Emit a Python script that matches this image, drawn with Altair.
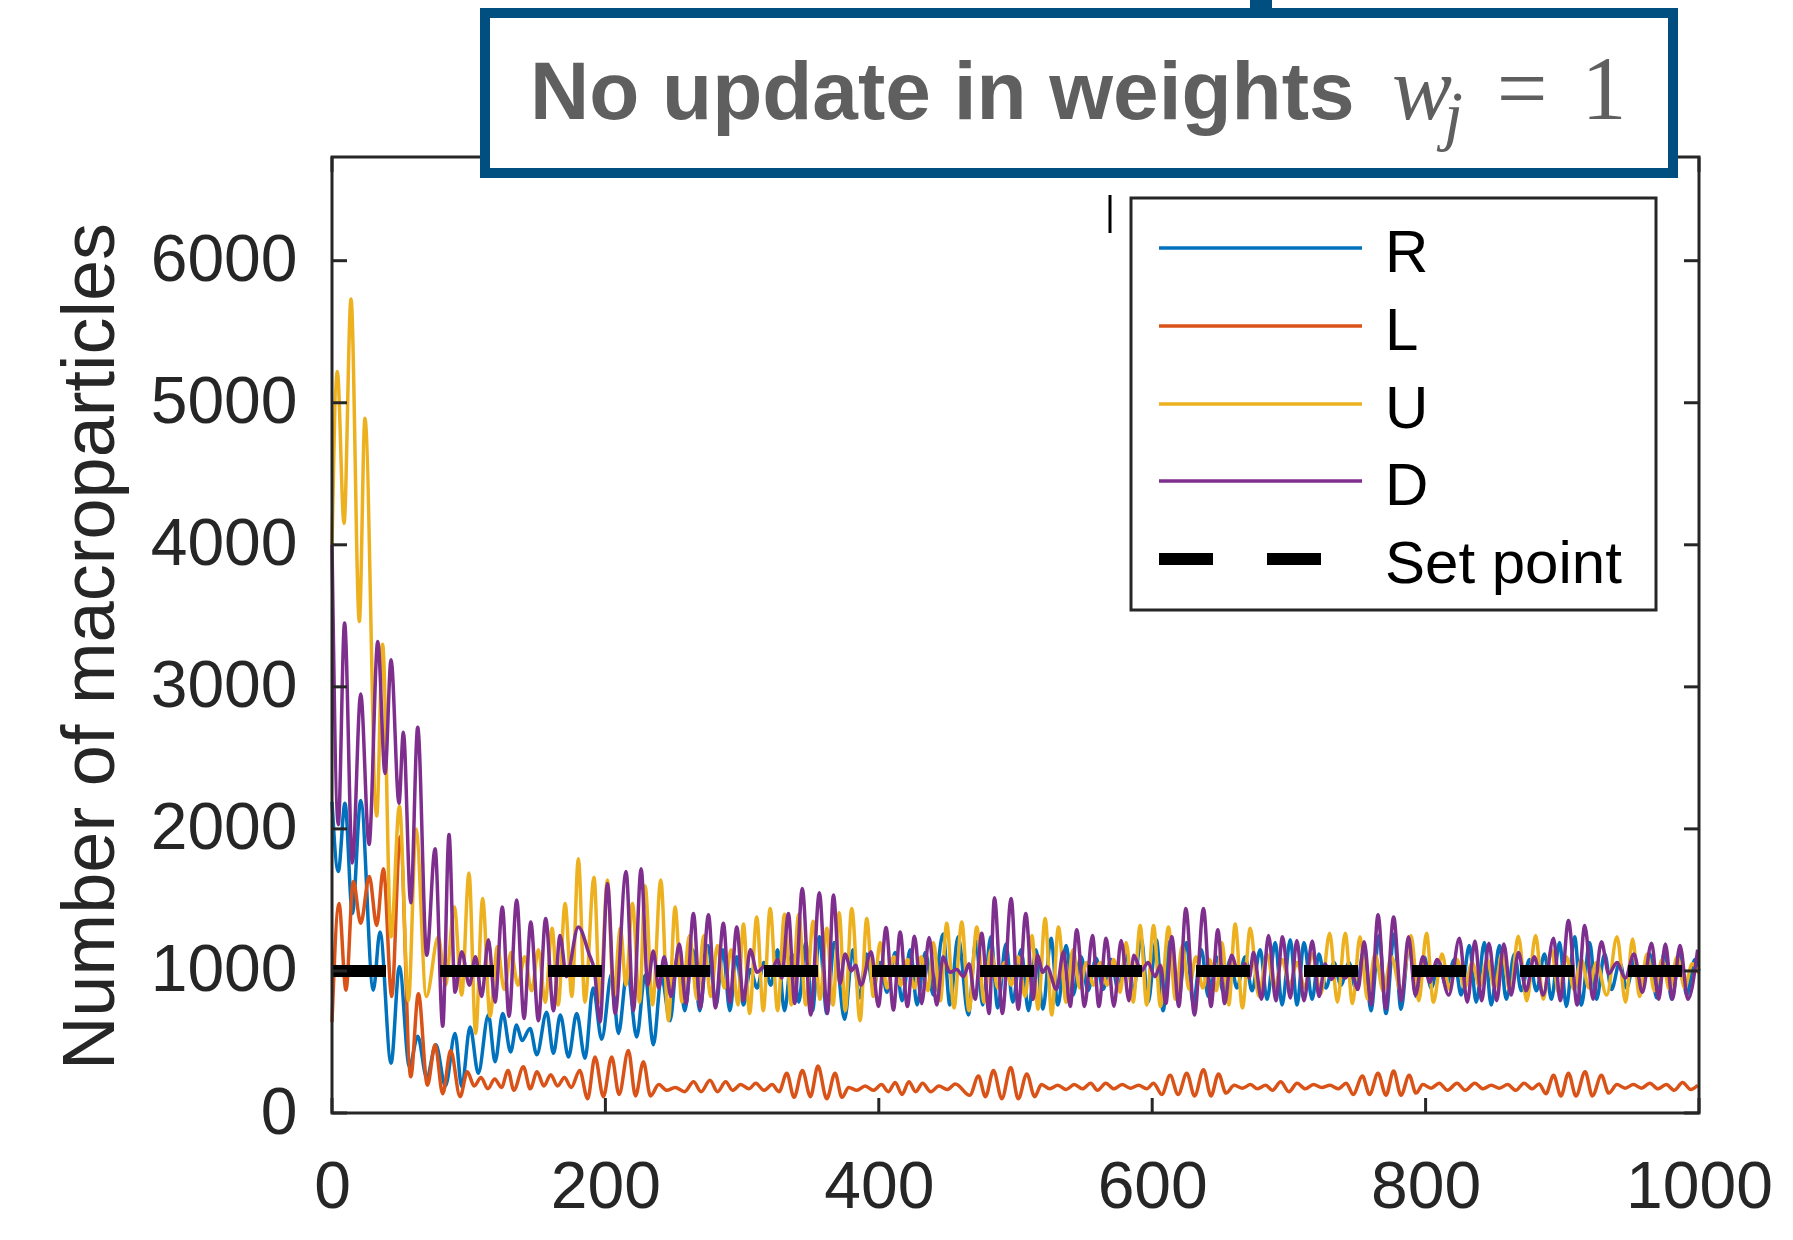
import altair as alt
import pandas as pd

# ---------------- data ----------------
R_pts = [(0,2190),(4.6,1700),(9.5,2180),(14.9,1405),(21,2200),(30.2,865),(35.1,1275),(43.2,350),(49.3,1030),(56.6,325),
 (62.7,540),(69.3,250),(76,480),(83,190),(90,560),(94.9,185),(101,605),(107,280),(114.4,690),(119.3,360),(124.9,700),
 (130.7,430),(135,620),(139,510),(144.9,595),(149.8,410),(157,710),(162,420),(167,690),(173,395),(179,700),(185.1,385),
 (191,880),(197.3,520),(204.6,980),(209.5,560),(216,1000),(222.9,535),(229,970),(235.1,480),(241,960),(247.3,650),
 (253,1120),(258,720),(264,1150),(269,720),(275,1180),(281,760),(286,1150),(291,720),(296,1100),(301,760),(306,1010),
 (311,880),(316,1060),(321,900),(326,1150),(331,720),(336.5,1120),(341.5,780),(346.5,1200),(351.5,720),(356.5,1240),
 (362,700),(367.5,1200),(375,660),(381,1150),(386,810),(391,1120),(396,880),(401,1060),(406,850),(412,1130),(417,790),
 (423,1150),(428,760),(434,1130),(440,830),(447,1260),(452,760),(458,1240),(465.5,690),(471,1210),(476,760),(482,1240),
 (487,740),(493,1190),(498,780),(504,1150),(509.5,720),(515,1150),(520,730),(526,1230),(531,760),(537,1180),(542,830),
 (548,1100),(553,860),(559,1090),(564,870),(570,1080),(575,870),(581,1110),(586,850),(592,1230),(597,780),(603,1220),
 (608,720),(613,1210),(619,780),(625,1200),(630,770),(636,1150),(641,820),(647,1100),(652,850),(657,1080),(662,880),
 (668,1100),(673,860),(679,1150),(684,800),(690,1200),(695,760),(701,1220),(706,760),(711,1200),(717,800),(722,1120),
 (727,880),(733,1060),(738,900),(744,1060),(749,870),(755,1150),(760,720),(766,1250),(771,700),(777,1260),(782,730),
 (788,1200),(793,820),(799,1100),(804,880),(810,1060),(815,890),(821,1080),(826,830),(832,1180),(837,780),(843,1200),
 (848,760),(854,1180),(859,800),(865,1120),(870,860),(876,1080),(881,860),(887,1120),(892,800),(898,1200),(903,750),
 (909,1240),(914,760),(920,1200),(925,800),(931,1120),(936,870),(942,1060),(947,880),(953,1080),(958,850),(964,1120),
 (969,810),(975,1140),(980,800),(986,1120),(991,830),(997,1080),(1000,1000)]

L_pts = [(0,640),(5.1,1475),(10.2,865),(15.6,1630),(21,1335),(27.3,1665),(32.7,1320),(37.6,1720),(43.7,820),(49.8,1945),
 (57.6,255),(63.2,840),(69.8,195),(75.4,480),(81,135),(86.8,440),(93.7,115),(99,290),(104,190),(109,250),(114,170),
 (119,240),(124,180),(128.8,300),(133,160),(140,325),(145,170),(150,290),(155,190),(160,270),(165,190),(170,250),
 (175,180),(181.2,300),(187,100),(192.4,395),(198.5,115),(204.6,395),(210,130),(216.8,440),(222,120),(227.8,360),
 (233,120),(239,200),(245,160),(251,180),(258,150),(264.5,220),(270,150),(276.5,230),(282,150),(288,220),(293,160),
 (299,200),(305,170),(310,210),(316,160),(322,200),(327,150),(332.7,280),(338,110),(344.1,300),(350,115),(355.5,330),
 (361.9,100),(368,280),(373,110),(378,180),(384,160),(390,190),(396,160),(402,200),(407,150),(412,215),(417,130),
 (422,220),(427,150),(432,210),(438,150),(444,190),(450,165),(456,205),(466.5,125),(472.9,260),(478,115),(483.9,300),
 (490,100),(496.5,320),(502,100),(508.3,275),(514,115),(519,200),(525,170),(531,195),(537,165),(543,200),(549,170),
 (555,210),(560,160),(566,210),(572,170),(578,200),(584,175),(590,195),(596,170),(601,210),(607,130),(613.1,265),
 (619,130),(625.3,280),(631,120),(637.5,305),(643,120),(648.5,275),(654,140),(660,195),(666,175),(672,200),(677,170),
 (683,195),(688,160),(694,220),(700,150),(706,210),(712,170),(718,200),(724,180),(730,195),(736,170),(742,210),
 (747,130),(753.8,260),(759,130),(765.2,280),(771,125),(776.6,295),(782,125),(788,265),(793,140),(798,200),(804,175),
 (810,210),(816,160),(823,210),(829,160),(836,210),(842,170),(848,195),(854,175),(860,200),(866,160),(872,210),
 (878,170),(883,205),(888,135),(893.6,265),(899,120),(904.5,280),(910,120),(916.7,290),(922,120),(928.6,265),
 (934,140),(940,200),(946,175),(952,200),(958,175),(964,210),(970,170),(976,200),(982,160),(988,215),(994,165),(999,195)]

U_pts = [(0,4000),(3.9,5220),(8.8,4150),(13.9,5730),(20,3460),(24.1,4890),(32.7,2090),(37,3300),(43.2,1240),(49.3,2160),
 (55.9,790),(61.5,2000),(69,820),(77.8,1240),(83,900),(89.5,1450),(94.9,830),(100.2,1690),(105.1,560),(110.2,1510),
 (115.6,680),(121,1170),(126,870),(131,1130),(136,900),(141,1100),(146,860),(151,1150),(156,780),(161,1300),
 (165.5,760),(170.5,1475),(175.5,820),(180.2,1790),(185,780),(191.7,1660),(196,780),(201.5,1640),(206,820),(211,1300),
 (215,900),(219.8,1475),(225,780),(229,1600),(234.5,760),(240.5,1640),(246.1,650),(251,1450),(256,780),(261.5,1250),
 (267,800),(272,1250),(277,820),(282,1180),(287,880),(292,1150),(297,760),(301,1330),(305.5,700),(310.7,1380),
 (315.5,720),(320.5,1440),(326,720),(331,1400),(336,760),(341.5,1400),(346.5,760),(352,1350),(357,800),(362,1300),
 (366.5,760),(371,1410),(375.5,720),(380.2,1440),(386.3,650),(391.2,1370),(396,820),(401,1200),(406,880),(411,1100),
 (416,900),(421,1080),(426,880),(431,1100),(436,860),(440,1200),(445,790),(449.7,1335),(455,740),(460.7,1345),
 (466,720),(471.7,1310),(477,780),(482,1150),(487,880),(492,1060),(497,900),(502,1100),(507,820),(512,1250),
 (516.5,730),(521.7,1370),(526.5,690),(531.4,1310),(537,780),(542,1150),(547,880),(552,1060),(557,900),(562,1060),
 (567,900),(572,1080),(576.5,850),(581,1200),(586,780),(591.2,1320),(596,760),(601,1320),(606,750),(611.9,1310),
 (617,800),(622,1180),(627,870),(632,1100),(637,880),(642,1080),(647,860),(651,1200),(656,760),(660.7,1330),
 (666,740),(671.7,1300),(678,820),(684,1120),(689.5,880),(695,1080),(700.5,900),(706,1060),(711.5,880),(717,1120),
 (723.4,840),(729.8,1265),(735.5,780),(741.2,1265),(746.5,770),(752,1240),(757.5,800),(763,1120),(769,860),(775,1100),
 (782,850),(789.3,1250),(795,790),(800.7,1265),(805.7,780),(812,1120),(817.5,870),(823,1080),(828.5,880),(834,1060),
 (839.5,890),(845,1080),(850.5,880),(856,1120),(862,850),(867.8,1245),(874,790),(880.5,1250),(886,800),(892,1150),
 (897.5,840),(903,1100),(908.5,870),(914,1080),(919.5,880),(925,1060),(932.5,830),(940,1240),(946.3,780),(951.4,1225),
 (956.5,820),(962,1120),(967.5,860),(973,1080),(978.5,870),(984,1100),(989.5,880),(995,1050),(1000,980)]

D_pts = [(0,4000),(4.6,2030),(9.2,3450),(14.9,1760),(21,2950),(27.1,1890),(33.5,3320),(38.8,2390),(43.2,3190),(49,2180),
 (52.2,2680),(57.6,1480),(62.7,2715),(69.3,1110),(75.4,1860),(81,610),(85.6,1960),(90,850),(94.9,1135),(100.5,900),
 (105,1100),(109.5,820),(114.4,1220),(119.3,780),(124.6,1450),(129.5,680),(135.1,1500),(140.5,665),(145.4,1345),
 (151,650),(156.3,1370),(162,720),(166.8,1250),(171.5,960),(180.2,1310),(188,1120),(192,1000),(196.1,640),(201.5,1615),
 (207.1,700),(215.1,1700),(220.5,720),(226.1,1720),(231,900),(235,1140),(239,880),(243,1100),(248,820),(254.1,1190),
 (259,770),(264.4,1405),(269.5,740),(275.4,1395),(280.5,740),(286.3,1335),(291,780),(296.1,1310),(301,790),(306,1150),
 (311,990),(316,1030),(321,990),(326,1080),(329,950),(333.9,1405),(338.5,770),(344,1580),(350.2,690),(356.5,1550),
 (362.4,700),(366.8,1535),(371.7,910),(375.3,1120),(380,1000),(383,1040),(387,900),(394.4,1135),(399.7,750),
 (405.3,1305),(410.7,725),(415.6,1275),(420.9,750),(426.1,1245),(431.4,770),(436.8,1235),(442.4,760),(447,1100),
 (452,990),(457,1010),(462,960),(466,1050),(470.5,800),(475.3,1265),(480.7,700),(484.6,1515),(490.4,700),(496.8,1510),
 (502,730),(507.5,1405),(512.9,800),(516,1110),(520,990),(523,1030),(530,870),(535.1,1135),(540,750),(544.8,1290),
 (550.5,750),(556.3,1250),(561,750),(566.3,1230),(572,750),(577.3,1215),(583,790),(586.5,1110),(592,1000),(597,1060),
 (602,960),(606,1040),(610,770),(614.3,1240),(619.5,750),(624.6,1440),(630.9,690),(637.5,1440),(643,750),(648,1290),
 (653,770),(658,1110),(663,990),(668,1050),(671,950),(674.1,1130),(680,800),(685.1,1250),(690.5,790),(695.3,1240),
 (701,810),(705.8,1215),(711,790),(717.1,1210),(722,820),(726.5,1050),(731,940),(736,1010),(741,950),(745.5,1000),
 (750.5,870),(755.1,1205),(760.2,760),(765.2,1395),(770.8,735),(776.6,1380),(782.2,790),(787.5,1240),(792.5,830),
 (798,1100),(803,920),(808.5,1080),(817,830),(824.7,1230),(830.5,780),(836.1,1210),(841,790),(846.3,1195),(852,790),
 (857.2,1190),(862.5,830),(868,1130),(873.5,860),(879.5,1100),(886,830),(893.6,1230),(898.5,790),(904.5,1355),
 (910.9,760),(916.4,1320),(922.5,800),(928.6,1205),(934,980),(940,1060),(946,950),(952.5,1120),(958.5,850),
 (965.3,1195),(970.5,800),(975.4,1190),(980.5,800),(986.1,1180),(991.9,800),(999,1150)]

SET_pts = [(0, 1000), (1000, 1000)]

SERIES_NAMES = ["R", "L", "U", "D", "Set point"]
SERIES_COLORS = ["#0072BD", "#D95319", "#EDB120", "#7E2F8E", "#000000"]

X_TICKS = [0, 200, 400, 600, 800, 1000]
Y_TICKS = [0, 1000, 2000, 3000, 4000, 5000, 6000]
X_DOMAIN = [0, 1000]
Y_DOMAIN = [0, 6730]

TITLE_TEXT = "No update in weights"
Y_TITLE = "Number of macroparticles"

# ---------------- layout / style ----------------
W, H = 1367, 956
PAD = {"left": 332, "top": 157, "right": 94, "bottom": 127}
SANS = "Liberation Sans"
SERIF = "Liberation Serif"
INK = "#262626"
BOX_BLUE = "#004f80"
TITLE_GRAY = "#5f5f5f"


def frame(pts):
    return pd.DataFrame({"t": [p[0] for p in pts], "v": [p[1] for p in pts]})


one = pd.DataFrame({"k": [0]})

xscale = alt.Scale(domain=X_DOMAIN, nice=False, zero=False)
yscale = alt.Scale(domain=Y_DOMAIN, nice=False, zero=False)
xaxis = alt.Axis(values=X_TICKS, title=None, grid=False, domain=False, ticks=False,
                 labelFont=SANS, labelFontSize=66, labelColor=INK, labelPadding=42,
                 labelFlush=False, labelOverlap=False, format="d")
yaxis = alt.Axis(values=Y_TICKS, title=Y_TITLE, grid=False, domain=False, ticks=False,
                 labelFont=SANS, labelFontSize=66, labelColor=INK, labelPadding=35,
                 labelFlush=False, labelOverlap=False, format="d",
                 titleFont=SANS, titleFontSize=74, titleFontWeight="normal", titleColor=INK,
                 titleX=-219, titleY=489, titleAngle=270, titleAlign="center",
                 titleBaseline="alphabetic")

X = alt.X("t:Q", scale=xscale, axis=xaxis)
Y = alt.Y("v:Q", scale=yscale, axis=yaxis)

layers = []
for pts, color in zip([R_pts, L_pts, U_pts, D_pts], SERIES_COLORS[:4]):
    layers.append(
        alt.Chart(frame(pts)).mark_line(color=color, strokeWidth=3.5, interpolate="monotone")
        .encode(x=X, y=Y)
    )
layers.append(
    alt.Chart(frame(SET_pts)).mark_line(color=SERIES_COLORS[4], strokeWidth=12, strokeDash=[54, 54])
    .encode(x=X, y=Y)
)

# inside ticks on all four sides
yt = pd.DataFrame({"v": Y_TICKS})
xt = pd.DataFrame({"t": X_TICKS})
tk = dict(color=INK, strokeWidth=3)
layers += [
    alt.Chart(yt).mark_rule(**tk).encode(y=Y, x=alt.value(0), x2=alt.value(15)),
    alt.Chart(yt).mark_rule(**tk).encode(y=Y, x=alt.value(W - 15), x2=alt.value(W)),
    alt.Chart(xt).mark_rule(**tk).encode(x=X, y=alt.value(H - 15), y2=alt.value(H)),
    alt.Chart(xt).mark_rule(**tk).encode(x=X, y=alt.value(0), y2=alt.value(15)),
]

# plot frame
layers.append(
    alt.Chart(one).mark_rect(fillOpacity=0, stroke=INK, strokeWidth=3)
    .encode(x=alt.value(0), x2=alt.value(W), y=alt.value(0), y2=alt.value(H))
)

# small stray stroke seen near the legend's top-left
layers.append(
    alt.Chart(one).mark_rule(color="#000000", strokeWidth=3)
    .encode(x=alt.value(778), y=alt.value(38), y2=alt.value(76))
)

# legend (box + samples + labels)
layers.append(
    alt.Chart(one).mark_rect(fill="white", stroke=INK, strokeWidth=3)
    .encode(x=alt.value(799), x2=alt.value(1324), y=alt.value(41), y2=alt.value(453))
)
ROW_Y = [91, 169, 247, 324, 402]
for i, (name, color) in enumerate(zip(SERIES_NAMES, SERIES_COLORS)):
    if name == "Set point":
        samp = alt.Chart(one).mark_rule(color=color, strokeWidth=12, strokeDash=[54, 54])
    else:
        samp = alt.Chart(one).mark_rule(color=color, strokeWidth=3.5)
    layers.append(samp.encode(x=alt.value(827), x2=alt.value(1030), y=alt.value(ROW_Y[i])))
    layers.append(
        alt.Chart(one).mark_text(text=name, font=SANS, fontSize=60, color="#000000",
                                 align="left", baseline="alphabetic")
        .encode(x=alt.value(1053), y=alt.value(ROW_Y[i] + 24))
    )

# title box
layers.append(
    alt.Chart(one).mark_rect(fill=BOX_BLUE)
    .encode(x=alt.value(918), x2=alt.value(940), y=alt.value(-157), y2=alt.value(-140))
)
layers.append(
    alt.Chart(one).mark_rect(fill="white", stroke=BOX_BLUE, strokeWidth=10)
    .encode(x=alt.value(153), x2=alt.value(1341), y=alt.value(-144), y2=alt.value(16))
)
layers.append(
    alt.Chart(one).mark_text(text=TITLE_TEXT, font=SANS, fontSize=82, fontWeight="bold",
                             color=TITLE_GRAY, align="left", baseline="alphabetic")
    .encode(x=alt.value(198), y=alt.value(-38))
)
layers.append(
    alt.Chart(one).mark_text(text="w", font=SERIF, fontSize=90, fontStyle="italic",
                             color=TITLE_GRAY, align="left", baseline="alphabetic")
    .encode(x=alt.value(1060), y=alt.value(-38))
)
layers.append(
    alt.Chart(one).mark_text(text="j", font=SERIF, fontSize=68, fontStyle="italic",
                             color=TITLE_GRAY, align="left", baseline="alphabetic")
    .encode(x=alt.value(1112), y=alt.value(-19))
)
layers.append(
    alt.Chart(one).mark_text(text="=", font=SERIF, fontSize=90,
                             color=TITLE_GRAY, align="center", baseline="alphabetic")
    .encode(x=alt.value(1190), y=alt.value(-38))
)
layers.append(
    alt.Chart(one).mark_text(text="1", font=SERIF, fontSize=90,
                             color=TITLE_GRAY, align="center", baseline="alphabetic")
    .encode(x=alt.value(1272), y=alt.value(-38))
)

chart = (
    alt.layer(*layers)
    .properties(width=W, height=H, padding=PAD, autosize=alt.AutoSizeParams(type="none"),
                background="white")
    .configure_view(strokeWidth=0)
)

chart.save("out.html", embed_options={"renderer": "svg", "actions": False})
